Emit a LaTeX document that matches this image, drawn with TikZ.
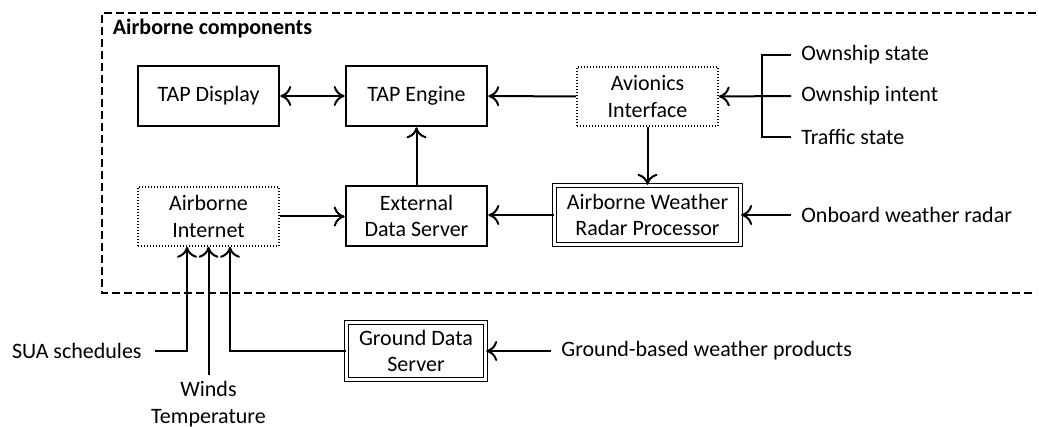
\documentclass[tikz,border=0pt]{standalone}
\usepackage{fontspec}
\setmainfont{Carlito}
\usetikzlibrary{arrows.meta,calc}
\begin{document}
\begin{tikzpicture}[x=0.5pt,y=-0.5pt,
  every node/.style={font=\fontsize{11pt}{13.4pt}\selectfont},
  solidbox/.style={draw,line width=1.3pt,minimum width=70.5pt,minimum height=30pt,align=center,inner sep=1pt},
  dotbox/.style={draw,line width=0.8pt,dash pattern=on 0.5pt off 1pt,minimum width=70.5pt,minimum height=29.5pt,align=center,inner sep=1pt},
  dblbox/.style={draw,double,line width=0.6pt,double distance=1.2pt,align=center,inner sep=1pt},
  lbl/.style={inner xsep=5pt,inner ysep=2pt},
  conn/.style={line width=1pt},
  arr/.style={conn,-{To[length=5.5pt,width=10pt]}},
  biarr/.style={conn,{To[length=5.5pt,width=10pt]}-{To[length=5.5pt,width=10pt]}},
  region/.style={line width=0.9pt,dash pattern=on 4pt off 2pt}]
\useasboundingbox (0,0) rectangle (1039,427);

% region
\draw[region] (1036,13) -- (102,13) -- (102,293) -- (1036,293);
\node[anchor=base west,inner sep=0pt,font=\fontsize{11pt}{13.4pt}\selectfont\bfseries] (title) at (112.5,35) {Airborne components};

% boxes
\node[solidbox] (disp) at (208.5,96) {TAP Display};
\node[solidbox] (eng) at (416.5,96) {TAP Engine};
\node[dotbox] (av) at (647.5,96.5) {Avionics\\Interface};
\node[dotbox] (ai) at (208.5,216.5) {Airborne\\Internet};
\node[solidbox] (eds) at (416.5,216) {External\\Data Server};
\node[dblbox,minimum width=93.1pt,minimum height=29.6pt] (wx) at (647.5,215) {Airborne Weather\\Radar Processor};
\node[dblbox,minimum width=69.6pt,minimum height=28.6pt] (gds) at (416,351) {Ground Data\\Server};

% labels
\node[lbl,anchor=west] (os) at (791,55) {Ownship state};
\node[lbl,anchor=west] (oi) at (791,96) {Ownship intent};
\node[lbl,anchor=west] (ts) at (791,137) {Traffic state};
\node[lbl,anchor=west] (ob) at (791,215) {Onboard weather radar};
\node[lbl,anchor=west] (gb) at (551,351) {Ground-based weather products};
\node[lbl,inner xsep=6.5pt,anchor=east] (sua) at (155,351) {SUA schedules};
\node[lbl,inner ysep=3pt,anchor=north,align=center] (wt) at (208.5,375) {Winds\\Temperature};

\coordinate (brx) at (762,96);
\coordinate (in1) at ([xshift=-10.75pt]ai.south);
\coordinate (in2) at (ai.south);
\coordinate (in3) at ([xshift=10.75pt]ai.south);

% connectors
\draw[biarr] (disp) -- (eng);
\draw[arr] (av) -- (eng);
\draw[arr] (av) -- (wx);
\draw[arr] (eds) -- (eng);
\draw[arr] (ai.east) -- (ai.east -| eds.west);
\draw[arr] (wx.west) -- (wx.west -| eds.east);
\draw[conn] (os.west) -- (os.west -| brx) -- (ts.west -| brx) -- (ts.west);
\draw[arr] (oi.west) -- (av.east);
\draw[arr] (ob.west) -- (wx.east);
\draw[arr] (gb.west) -- (gds.east);
\draw[arr] (sua.east) -| (in1);
\draw[arr] (wt.north) -- (in2);
\draw[arr] (gds.west) -| (in3);
\end{tikzpicture}
\end{document}
